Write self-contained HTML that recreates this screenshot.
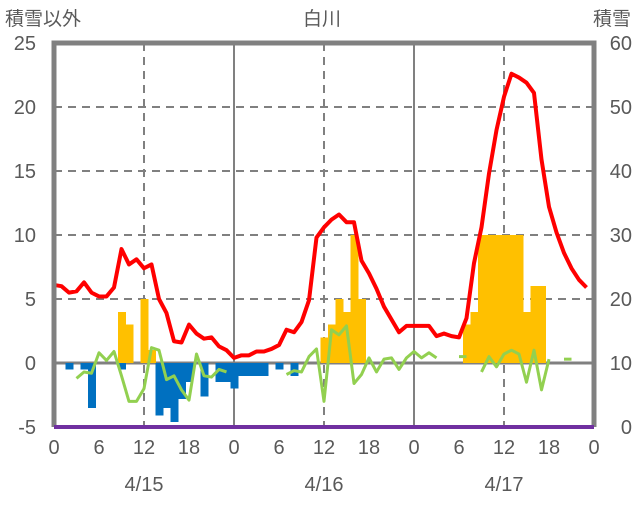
<!DOCTYPE html>
<html><head><meta charset="utf-8"><style>
body{margin:0;background:#fff;width:636px;height:501px;overflow:hidden}
svg text{font-family:"Liberation Sans","Noto Sans CJK JP",sans-serif;fill:#595959}
</style></head><body>
<svg id="chart" width="636" height="501" viewBox="0 0 636 501" xmlns="http://www.w3.org/2000/svg">
<text x="5" y="25" font-size="19">積雪以外</text>
<text x="322" y="25" font-size="19" text-anchor="middle">白川</text>
<text x="631" y="25" font-size="19" text-anchor="end">積雪</text>
<g id="grid"></g><g id="bars" shape-rendering="crispEdges"></g><g id="lines"></g><g id="frame"></g><g id="labels"></g>
</svg>
<script>
const hours=[...Array(72).keys()];
const redTemp=[6.1,6.0,5.5,5.6,6.3,5.5,5.2,5.2,5.9,8.9,7.7,8.1,7.4,7.7,5.0,3.9,1.7,1.6,3.0,2.3,1.9,2.0,1.3,1.0,
0.4,0.6,0.6,0.9,0.9,1.1,1.4,2.6,2.4,3.2,4.9,9.8,10.6,11.2,11.6,11.0,11.0,8.0,7.0,5.8,4.4,3.4,2.4,2.9,
2.9,2.9,2.9,2.1,2.3,2.1,2.0,3.5,7.8,10.6,14.8,18.2,20.8,22.6,22.3,21.9,21.1,15.9,12.2,10.2,8.6,7.4,6.5,5.9];
const greenVals=[null,null,null,-1.2,-0.7,-0.8,0.8,0.2,0.9,-1.0,-3.0,-3.0,-2.0,1.2,1.0,-1.3,-1.0,-2.1,-2.9,0.7,-1.0,-1.1,-0.5,-0.7,
null,null,null,null,null,null,null,-0.9,-0.6,-0.7,0.5,1.1,-3.0,2.6,2.2,2.9,-1.6,-0.9,0.4,-0.7,0.3,0.4,-0.5,0.4,
0.9,0.4,0.8,0.4,null,null,0.5,0.5,null,-0.7,0.5,-0.3,0.7,1.0,0.7,-1.5,1.0,-2.1,0.3,null,0.3,0.3,null,null];
const orangeBars={9:4.0,10:3.0,12:5.0,13:1.0,36:2.0,37:3.0,38:5.0,39:4.0,40:10.0,41:5.0,55:3.0,56:4.0,57:10,58:10,59:10,60:10,61:10,62:10,63:4.0,64:6.0,65:6.0};
const blueBars={2:-0.5,4:-0.5,5:-3.5,9:-0.5,14:-4.1,15:-3.5,16:-4.6,17:-2.8,18:-1.5,20:-2.6,22:-1.5,23:-1.5,24:-2.0,25:-1.0,26:-1.0,27:-1.0,28:-1.0,30:-0.5,32:-1.0};
const leftTicks=[25,20,15,10,5,0,-5];
const rightTicks=[60,50,40,30,20,10,0];
const xTickLabels=["0","6","12","18","0","6","12","18","0","6","12","18","0"];
const dateLabels=["4/15","4/16","4/17"];
const X0=54,X1=594,Y0=43,Y1=427;
const x=h=>X0+(X1-X0)*h/72;
const y=v=>Y1-(v+5)*(Y1-Y0)/30;
const yr=v=>Y1-v*(Y1-Y0)/60;
const NS="http://www.w3.org/2000/svg";
function mk(tag,attrs,parent){const e=document.createElementNS(NS,tag);for(const k in attrs)e.setAttribute(k,attrs[k]);document.getElementById(parent).appendChild(e);return e;}
[5,10,15,20].forEach(v=>{const l=mk('line',{x1:X0,x2:X1,y1:y(v),y2:y(v),stroke:'#808080','stroke-width':2,'stroke-dasharray':'8,6'},'grid');

});
for(let h=12;h<72;h+=24){const l=mk('line',{x1:x(h),x2:x(h),y1:Y0,y2:Y1,stroke:'#808080','stroke-width':2,'stroke-dasharray':'8,6'},'grid');

}
for(let h=24;h<72;h+=24){const l=mk('line',{x1:x(h),x2:x(h),y1:Y0,y2:Y1,stroke:'#808080','stroke-width':2},'grid');

}
const bw=(X1-X0)/72;
for(const k in orangeBars){const v=orangeBars[k];const r=mk('rect',{x:x(+k)-bw/2,y:y(v),width:bw+0.5,height:y(0)-y(v),fill:'#FFC000'},'bars');

}
for(const k in blueBars){const v=blueBars[k];const r=mk('rect',{x:x(+k)-bw/2,y:y(0),width:bw+0.5,height:y(v)-y(0),fill:'#0070C0'},'bars');

}
const z=mk('line',{x1:X0,x2:X1,y1:y(0),y2:y(0),stroke:'#808080','stroke-width':3},'grid');


let seg=[];const segs=[];
greenVals.forEach((v,i)=>{if(v===null){if(seg.length)segs.push(seg);seg=[];}else seg.push([x(i),y(v)]);});
if(seg.length)segs.push(seg);
segs.forEach(s=>{const p=mk('polyline',{points:s.map(q=>q.join(',')).join(' '),fill:'none',stroke:'#92D050','stroke-width':3,'stroke-linejoin':'round'},'lines');

});
const red=mk('polyline',{points:redTemp.map((v,i)=>x(i)+','+y(v)).join(' '),fill:'none',stroke:'#FF0000','stroke-width':4,'stroke-linejoin':'round'},'lines');


const fr=mk('path',{d:`M${X0},${Y1} V${Y0} H${X1} V${Y1}`,fill:'none',stroke:'#808080','stroke-width':5},'frame');


const pl=mk('line',{x1:X0,x2:X1,y1:Y1,y2:Y1,stroke:'#7030A0','stroke-width':4},'frame');


leftTicks.forEach(v=>{const t=mk('text',{x:36,y:y(v)+7,'font-size':20,'text-anchor':'end'},'labels');t.textContent=v;

});
rightTicks.forEach(v=>{const t=mk('text',{x:632,y:yr(v)+7,'font-size':20,'text-anchor':'end'},'labels');t.textContent=v;

});
xTickLabels.forEach((s,i)=>{const t=mk('text',{x:x(i*6),y:454,'font-size':20,'text-anchor':'middle'},'labels');t.textContent=s;

});
dateLabels.forEach((s,i)=>{const t=mk('text',{x:x(12+24*i),y:491,'font-size':20,'text-anchor':'middle'},'labels');t.textContent=s;

});
</script>
</body></html>
